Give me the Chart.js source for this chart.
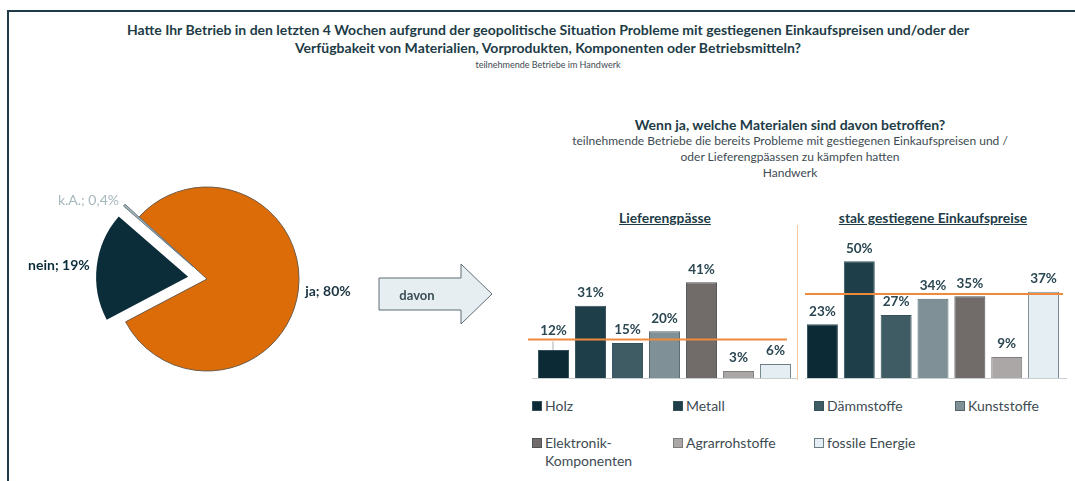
<!DOCTYPE html>
<html lang="de">
<head>
<meta charset="utf-8">
<script src="https://cdn.jsdelivr.net/npm/chart.js@4.4.1/dist/chart.umd.min.js"></script>
<style>
  body { margin: 0; background: #fff; font-family: Lato, "Open Sans", sans-serif; color: #1d3c47; }
  #page { position: relative; width: 1075px; height: 481px; overflow: hidden; }
  .frame { position: absolute; left: 7px; top: 10px; width: 1100px; height: 500px; border: 2px solid #1d3c47; }
  .abs { position: absolute; }
  .title { left: 48px; top: 21px; width: 1000px; text-align: center; font-weight: bold; font-size: 14px; line-height: 18px; }
  .subtitle { left: 48px; top: 59px; width: 1000px; text-align: center; font-size: 9px; line-height: 12px; color: #3d4b52; }
  .title2 { left: 540px; top: 116px; width: 500px; text-align: center; font-weight: bold; font-size: 14px; line-height: 18px; }
  .sub2 { left: 540px; top: 133px; width: 500px; text-align: center; font-size: 12px; line-height: 16px; color: #3d4b52; }
  .group { top: 209px; width: 240px; text-align: center; font-weight: bold; font-size: 13.8px; line-height: 18px; text-decoration: underline; }
  .sep { left: 797px; top: 225px; width: 1px; height: 155px; background: #f6c9a2; }
  #legend { left: 532px; top: 397px; display: grid; grid-template-columns: repeat(4, 141px); row-gap: 19px;
            font-size: 14px; line-height: 18px; color: #3d4b52; }
  #legend .item { display: flex; align-items: flex-start; }
  #legend .box { width: 8px; height: 8px; margin: 4px 3px 0 0; flex: none; border: 1px solid #4e6066; }
  canvas { position: absolute; }
</style>
</head>
<body>
<div id="page">
  <div class="frame"></div>
  <div class="abs title">Hatte Ihr Betrieb in den letzten 4 Wochen aufgrund der geopolitische Situation Probleme mit gestiegenen Einkaufspreisen und/oder der<br>Verfügbakeit von Materialien, Vorprodukten, Komponenten oder Betriebsmitteln?</div>
  <div class="abs subtitle">teilnehmende Betriebe im Handwerk</div>

  <canvas id="pieChart" width="394" height="258" style="left:10px; top:150px;"></canvas>

  <svg class="abs" style="left:375px; top:260px;" width="125" height="70">
    <polygon points="4,18 86,18 86,4 117,34 86,64 86,50 4,50" fill="#e6eef2" stroke="#5d6d74" stroke-width="1"/>
    <text x="42" y="40" text-anchor="middle" font-family="Lato, sans-serif" font-size="13" font-weight="bold" fill="#3b4d55">davon</text>
  </svg>

  <div class="abs title2">Wenn ja, welche Materialen sind davon betroffen?</div>
  <div class="abs sub2">teilnehmende Betriebe die bereits Probleme mit gestiegenen Einkaufspreisen und /<br>oder Lieferengpäassen zu kämpfen hatten<br>Handwerk</div>

  <div class="abs group" style="left:545px;">Lieferengpässe</div>
  <div class="abs group" style="left:813px;">stak gestiegene Einkaufspreise</div>
  <div class="abs sep"></div>

  <canvas id="lieferChart" width="290" height="165" style="left:520px; top:220px;"></canvas>
  <canvas id="preisChart" width="285" height="165" style="left:790px; top:220px;"></canvas>

  <div class="abs" id="legend"></div>
</div>

<script>
// Kreisdiagramm
const pieLabels = ['ja', 'nein', 'k.A.'];
const pieValues = [80, 19, 0.4];

// Materialien
const categories = ['Holz', 'Metall', 'Dämmstoffe', 'Kunststoffe', 'Elektronik-Komponenten', 'Agrarrohstoffe', 'fossile Energie'];
const lieferengpaesse = [12, 31, 15, 20, 41, 3, 6];
const einkaufspreise = [23, 50, 27, 34, 35, 9, 37];
const referenzLiefer = 16.5;   // orange Linie links
const referenzPreise = 36;     // orange Linie rechts

const pieColors = ['#dc6c08', '#0b2d3a', '#a3b3ba'];
const pieBorders = ['#6e5a48', '#0b2d3a', '#6a7a81'];
const pieExplode = [0, 19, 19];   // Abstand der herausgezogenen Stücke in px
const pieTextColors = ['#1b3440', '#0b2d3a', '#a7b7be'];
const pieTextWeights = ['bold', 'bold', 'normal'];

const barColors = ['#0b2a36', '#1e3f4a', '#3f5c65', '#7f9196', '#716b6a', '#aba7a6', '#e5eef2'];
const barBorders = ['#34505a', '#34505a', '#34505a', '#52656b', '#4e5458', '#7e7e7e', '#6c7e86'];

const FONT = 'Lato, "Open Sans", sans-serif';

// Stücke wie in Excel einfach verschieben (das offset von Chart.js macht dünne Stücke unsichtbar)
const explodePlugin = {
    id: 'explode',
    beforeDatasetsDraw(chart) {
        chart.getDatasetMeta(0).data.forEach((arc, i) => {
            if (arc._exploded) return;
            const origDraw = arc.draw;
            arc.draw = function (ctx) {
                const mid = (this.startAngle + this.endAngle) / 2;
                ctx.save();
                ctx.translate(Math.cos(mid) * pieExplode[i], Math.sin(mid) * pieExplode[i]);
                origDraw.call(this, ctx);
                ctx.restore();
            };
            arc._exploded = true;
        });
    }
};

// Beschriftung am Kreis: "ja; 80%"
const pieLabelPlugin = {
    id: 'pieLabels',
    afterDatasetsDraw(chart) {
        const ctx = chart.ctx;
        const meta = chart.getDatasetMeta(0);
        meta.data.forEach((arc, i) => {
            const p = arc.getProps(['x', 'y', 'startAngle', 'endAngle', 'outerRadius'], true);
            const mid = (p.startAngle + p.endAngle) / 2;
            const r = pieExplode[i] + p.outerRadius + 7;
            const tx = p.x + Math.cos(mid) * r;
            const ty = p.y + Math.sin(mid) * r;
            ctx.save();
            ctx.font = pieTextWeights[i] + ' 14px ' + FONT;
            ctx.fillStyle = pieTextColors[i];
            ctx.textAlign = Math.cos(mid) >= 0 ? 'left' : 'right';
            ctx.textBaseline = 'middle';
            ctx.fillText(pieLabels[i] + '; ' + pieValues[i].toLocaleString('de-DE') + '%', tx, ty);
            ctx.restore();
        });
    }
};

new Chart(document.getElementById('pieChart'), {
    type: 'pie',
    data: {
        labels: pieLabels,
        datasets: [{
            data: pieValues,
            backgroundColor: pieColors,
            borderColor: pieBorders,
            borderWidth: [1, 0, 1],
            rotation: -47.5,
            radius: 92
        }]
    },
    options: {
        responsive: false,
        animation: false,
        rotation: -47.5,
        layout: { padding: 0 },
        plugins: { legend: { display: false }, tooltip: { enabled: false } }
    },
    plugins: [explodePlugin, pieLabelPlugin]
});

// Grundlinie, orange Referenzlinie und Prozentwerte
const barDecorPlugin = {
    id: 'barDecor',
    beforeDatasetsDraw(chart, args, opts) {
        const ctx = chart.ctx;
        const area = chart.chartArea;
        ctx.save();
        ctx.strokeStyle = '#c9ced1';
        ctx.lineWidth = 1;
        ctx.beginPath();
        ctx.moveTo(area.left + opts.baseFrom, area.bottom + 0.5);
        ctx.lineTo(area.right + opts.baseTo, area.bottom + 0.5);
        ctx.stroke();
        ctx.restore();
    },
    afterDatasetsDraw(chart, args, opts) {
        const ctx = chart.ctx;
        const area = chart.chartArea;
        const yScale = chart.scales.y;
        const lineY = yScale.getPixelForValue(opts.refValue);
        ctx.save();
        ctx.strokeStyle = '#ef8a3d';
        ctx.lineWidth = 2;
        ctx.beginPath();
        ctx.moveTo(area.left + opts.lineFrom, lineY);
        ctx.lineTo(area.right + opts.lineTo, lineY);
        ctx.stroke();

        const values = chart.data.datasets[0].data;
        ctx.font = 'bold 13.5px ' + FONT;
        ctx.fillStyle = '#2b4752';
        ctx.textAlign = 'center';
        ctx.textBaseline = 'middle';
        chart.getDatasetMeta(0).data.forEach((bar, i) => {
            let ty = bar.y - 13;
            if (Math.abs(ty - lineY) < 6) {
                // Wert über die Linie schieben, mit Führungslinie
                ty = lineY - 9;
                ctx.strokeStyle = '#a9adb0';
                ctx.lineWidth = 1;
                ctx.beginPath();
                ctx.moveTo(bar.x - 0.5, bar.y);
                ctx.lineTo(bar.x - 0.5, ty + 11);
                ctx.stroke();
            }
            ctx.fillText(values[i] + '%', bar.x, ty);
        });
        ctx.restore();
    }
};

function barChart(id, values, refValue, padding, deco) {
    return new Chart(document.getElementById(id), {
        type: 'bar',
        data: {
            labels: categories,
            datasets: [{
                data: values,
                backgroundColor: barColors,
                borderColor: barBorders,
                borderWidth: 1,
                categoryPercentage: 1,
                barPercentage: 0.84
            }]
        },
        options: {
            responsive: false,
            animation: false,
            layout: { padding: padding },
            scales: {
                x: { display: false },
                y: { display: false, min: 0, max: 60 }
            },
            plugins: {
                legend: { display: false },
                tooltip: { enabled: false },
                barDecor: Object.assign({ refValue: refValue }, deco)
            }
        },
        plugins: [barDecorPlugin]
    });
}

barChart('lieferChart', lieferengpaesse, referenzLiefer,
    { left: 15, right: 16, top: 18, bottom: 7 },
    { baseFrom: -3, baseTo: 3, lineFrom: -7, lineTo: -7 });
barChart('preisChart', einkaufspreise, referenzPreise,
    { left: 14, right: 13, top: 18, bottom: 7 },
    { baseFrom: 1, baseTo: 5, lineFrom: 1, lineTo: 1 });

// Legende (zeilenweise, 4 Spalten)
const legend = document.getElementById('legend');
categories.forEach((name, i) => {
    const item = document.createElement('div');
    item.className = 'item';
    const box = document.createElement('span');
    box.className = 'box';
    box.style.background = barColors[i];
    box.style.borderColor = barBorders[i];
    const text = document.createElement('span');
    text.textContent = name;
    item.appendChild(box);
    item.appendChild(text);
    legend.appendChild(item);
});
</script>
</body>
</html>
